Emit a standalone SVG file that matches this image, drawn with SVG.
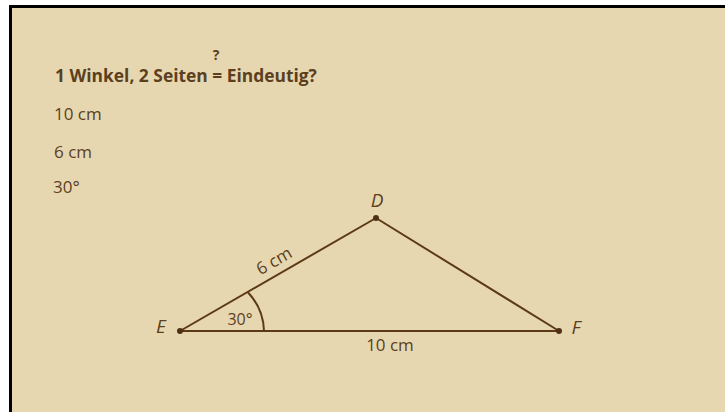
<svg xmlns="http://www.w3.org/2000/svg" width="725" height="412" viewBox="0 0 725 412">
<style>
.t{font-family:"Open Sans","Noto Sans",sans-serif;fill:#5b3f1e}
.b{font-weight:bold}
.lbl{font-family:"Open Sans","Noto Sans",sans-serif;font-style:italic;fill:#5b3f1e;font-size:19px}
.edge{stroke:#5c3a17;stroke-width:2;fill:none;stroke-linecap:round}
.pt{fill:#4e3114}
</style>
<rect x="0" y="0" width="725" height="412" fill="#ffffff"/>
<rect x="10.5" y="6.5" width="730" height="420" fill="#e7d7b1" stroke="#000" stroke-width="3"/>
<g id="title">
<text class="t b" x="55" y="82" font-size="17.4">1 Winkel, 2 Seiten = Eindeutig?</text>
<text class="t b" x="216" y="60" font-size="14" text-anchor="middle">?</text>
</g>
<g id="givens">
<text class="t" x="54" y="120" font-size="17">10 cm</text>
<text class="t" x="54" y="158" font-size="17">6 cm</text>
<text class="t" x="53" y="193" font-size="17">30°</text>
</g>
<g id="connectors">
<line class="edge" x1="180" y1="331" x2="376" y2="218"/>
<line class="edge" x1="376" y1="218" x2="559" y2="331"/>
<line class="edge" x1="180" y1="331" x2="559" y2="331"/>
<path class="edge" d="M264,331 A58,58 0 0 0 248.5,293"/>
<text class="t" x="0" y="0" font-size="17" text-anchor="middle" transform="translate(277,266) rotate(-30)">6 cm</text>
<text class="t" x="390" y="351" font-size="17" text-anchor="middle">10 cm</text>
<text class="t" x="240" y="325" font-size="16" text-anchor="middle">30°</text>
</g>
<g id="node-E">
<circle class="pt" cx="180" cy="331" r="3"/>
<text class="lbl" x="161" y="333" text-anchor="middle">E</text>
</g>
<g id="node-D">
<circle class="pt" cx="376" cy="218" r="3"/>
<text class="lbl" x="377" y="207" text-anchor="middle">D</text>
</g>
<g id="node-F">
<circle class="pt" cx="559" cy="331" r="3"/>
<text class="lbl" x="576" y="334" text-anchor="middle">F</text>
</g>
</svg>
